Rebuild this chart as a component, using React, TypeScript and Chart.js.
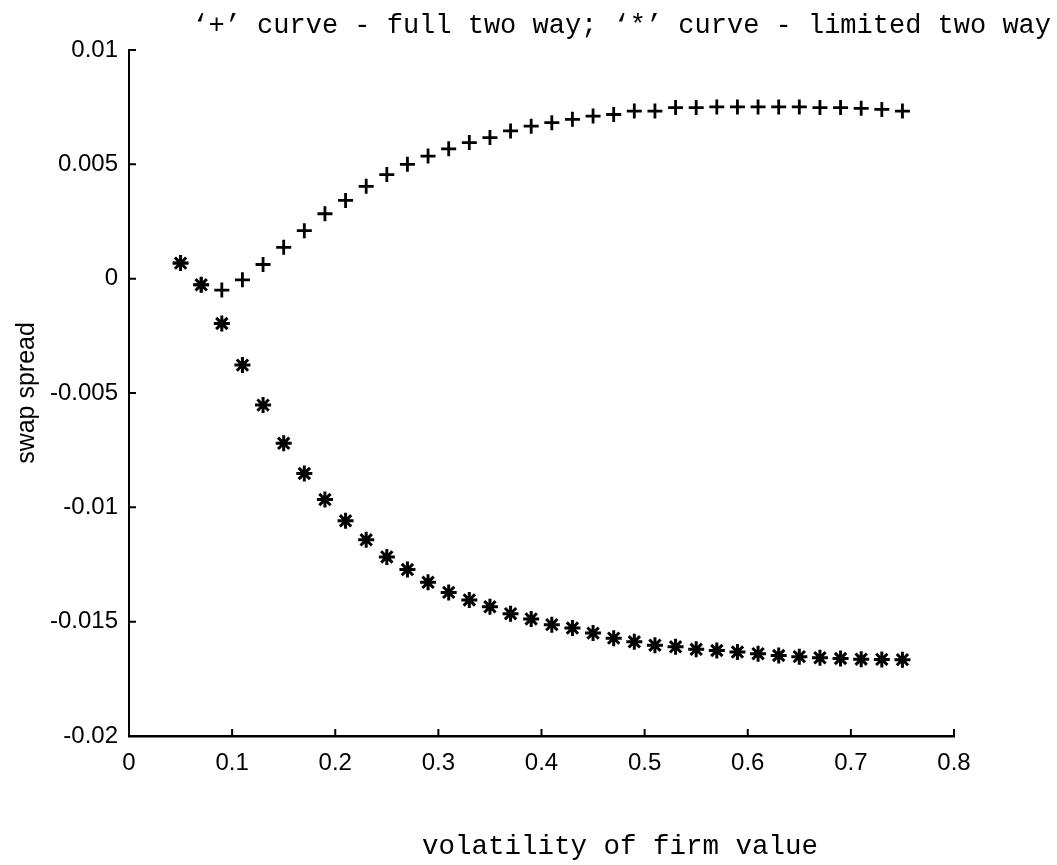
import React, { useEffect, useRef } from 'react';
import { Chart, registerables } from 'chart.js';

Chart.register(...registerables);

const TITLE = '\u2018+\u2019 curve - full two way; \u2018*\u2019 curve - limited two way';
const X_TITLE = 'volatility of firm value';
const Y_TITLE = 'swap spread';

const X_VALUES = [
  0.05, 0.07, 0.09, 0.11, 0.13, 0.15, 0.17, 0.19, 0.21, 0.23, 0.25, 0.27,
  0.29, 0.31, 0.33, 0.35, 0.37, 0.39, 0.41, 0.43, 0.45, 0.47, 0.49, 0.51,
  0.53, 0.55, 0.57, 0.59, 0.61, 0.63, 0.65, 0.67, 0.69, 0.71, 0.73, 0.75,
];

// '+' curve - full two way
const FULL_TWO_WAY = [
  0.00068, -0.00027, -0.0005, -0.00005, 0.00062, 0.00137, 0.0021, 0.00284,
  0.00342, 0.00404, 0.00455, 0.005, 0.00536, 0.00568, 0.00595, 0.00617,
  0.00646, 0.00667, 0.00682, 0.00697, 0.00711, 0.00718, 0.00733, 0.00733,
  0.00748, 0.00748, 0.00751, 0.00751, 0.00751, 0.00751, 0.00751, 0.00748,
  0.00748, 0.00745, 0.0074, 0.00733,
];

// '*' curve - limited two way
const LIMITED_TWO_WAY = [
  0.00068, -0.00027, -0.00196, -0.00378, -0.00553, -0.0072, -0.00852, -0.00966,
  -0.01059, -0.01142, -0.01217, -0.01272, -0.01328, -0.01372, -0.01405, -0.01435,
  -0.01465, -0.01488, -0.01513, -0.01528, -0.0155, -0.01572, -0.01588, -0.01603,
  -0.0161, -0.01621, -0.01626, -0.01633, -0.0164, -0.01648, -0.01653, -0.01658,
  -0.01661, -0.01664, -0.01665, -0.01666,
];

const X_TICKS = [0, 0.1, 0.2, 0.3, 0.4, 0.5, 0.6, 0.7, 0.8];
const X_TICK_LABELS = ['0', '0.1', '0.2', '0.3', '0.4', '0.5', '0.6', '0.7', '0.8'];
const Y_TICKS = [-0.02, -0.015, -0.01, -0.005, 0, 0.005, 0.01];
const Y_TICK_LABELS = ['-0.02', '-0.015', '-0.01', '-0.005', '0', '0.005', '0.01'];

const MONO = "'Liberation Mono', 'Courier New', monospace";
const SANS = "'Liberation Sans', Arial, sans-serif";

const innerTicksPlugin = {
  id: 'innerTicks',
  afterDraw(chart: any) {
    const { ctx, chartArea, scales } = chart;
    ctx.save();
    ctx.strokeStyle = '#000';
    ctx.lineWidth = 2;
    ctx.beginPath();
    scales.x.ticks.forEach((t: any) => {
      const px = scales.x.getPixelForValue(t.value);
      ctx.moveTo(px, chartArea.bottom);
      ctx.lineTo(px, chartArea.bottom - 7);
    });
    scales.y.ticks.forEach((t: any) => {
      const py = scales.y.getPixelForValue(t.value);
      ctx.moveTo(chartArea.left, py);
      ctx.lineTo(chartArea.left + 7, py);
    });
    ctx.stroke();
    ctx.restore();
  },
};

const xTitlePlugin = {
  id: 'xTitleOffset',
  afterDraw(chart: any) {
    const { ctx } = chart;
    ctx.save();
    ctx.fillStyle = '#000';
    ctx.font = `27.5px ${MONO}`;
    ctx.textAlign = 'center';
    ctx.textBaseline = 'alphabetic';
    ctx.fillText(X_TITLE, 620, 854);
    ctx.restore();
  },
};

export default function App() {
  const ref = useRef<HTMLCanvasElement>(null);

  useEffect(() => {
    const canvas = ref.current;
    if (!canvas) return;
    const chart = new Chart(canvas, {
      type: 'scatter',
      data: {
        datasets: [
          {
            label: 'full two way',
            data: X_VALUES.map((x, i) => ({ x, y: FULL_TWO_WAY[i] })),
            pointStyle: 'cross',
            pointRadius: 7.5,
            pointBorderWidth: 2.8,
            borderColor: '#000',
            backgroundColor: '#000',
            showLine: false,
          },
          {
            label: 'limited two way',
            data: X_VALUES.map((x, i) => ({ x, y: LIMITED_TWO_WAY[i] })),
            pointStyle: 'star',
            pointRadius: 8,
            pointBorderWidth: 3,
            borderColor: '#000',
            backgroundColor: '#000',
            showLine: false,
          },
        ],
      },
      options: {
        animation: false,
        responsive: false,
        devicePixelRatio: 1,
        events: [],
        layout: { padding: { top: 0, right: 6, bottom: 0, left: 0 } },
        plugins: {
          legend: { display: false },
          tooltip: { enabled: false },
          title: {
            display: true,
            text: TITLE,
            align: 'end',
            color: '#000',
            font: { family: MONO, size: 27, weight: 'normal', lineHeight: 1.2 },
            padding: { top: 10, bottom: 7.6 },
          },
        },
        scales: {
          x: {
            type: 'linear',
            position: 'bottom',
            min: 0,
            max: 0.8,
            afterFit: (s: any) => {
              s.height = 129;
            },
            afterBuildTicks: (s: any) => {
              s.ticks = X_TICKS.map((v) => ({ value: v }));
            },
            ticks: {
              callback: (_v: any, i: number) => X_TICK_LABELS[i],
              color: '#000',
              font: { family: SANS, size: 24 },
              padding: 13,
              maxRotation: 0,
              autoSkip: false,
            },
            grid: { display: false, drawTicks: false },
            border: { display: true, color: '#000', width: 2.5 },
          },
          y: {
            type: 'linear',
            position: 'left',
            min: -0.02,
            max: 0.01,
            afterFit: (s: any) => {
              s.width = 129;
            },
            afterBuildTicks: (s: any) => {
              s.ticks = Y_TICKS.map((v) => ({ value: v }));
            },
            ticks: {
              callback: (_v: any, i: number) => Y_TICK_LABELS[i],
              color: '#000',
              font: { family: SANS, size: 24 },
              padding: 11,
              autoSkip: false,
            },
            grid: { display: false, drawTicks: false },
            border: { display: true, color: '#000', width: 2 },
            title: {
              display: true,
              text: Y_TITLE,
              color: '#000',
              font: { family: SANS, size: 25 },
              padding: { top: 12, bottom: 0 },
            },
          },
          yRight: {
            axis: 'y',
            type: 'linear',
            position: 'right',
            display: true,
            ticks: { display: false },
            grid: { display: false, drawTicks: false },
            border: { display: false },
            afterFit: (s: any) => {
              s.width = 1057 - 6 - 954;
            },
          },
        },
      },
      plugins: [innerTicksPlugin, xTitlePlugin],
    } as any);
    return () => chart.destroy();
  }, []);

  return (
    <div style={{ position: 'absolute', left: 0, top: 0, width: 1057, height: 865, background: '#fff' }}>
      <canvas ref={ref} width={1057} height={865} style={{ display: 'block', width: 1057, height: 865 }} />
    </div>
  );
}
